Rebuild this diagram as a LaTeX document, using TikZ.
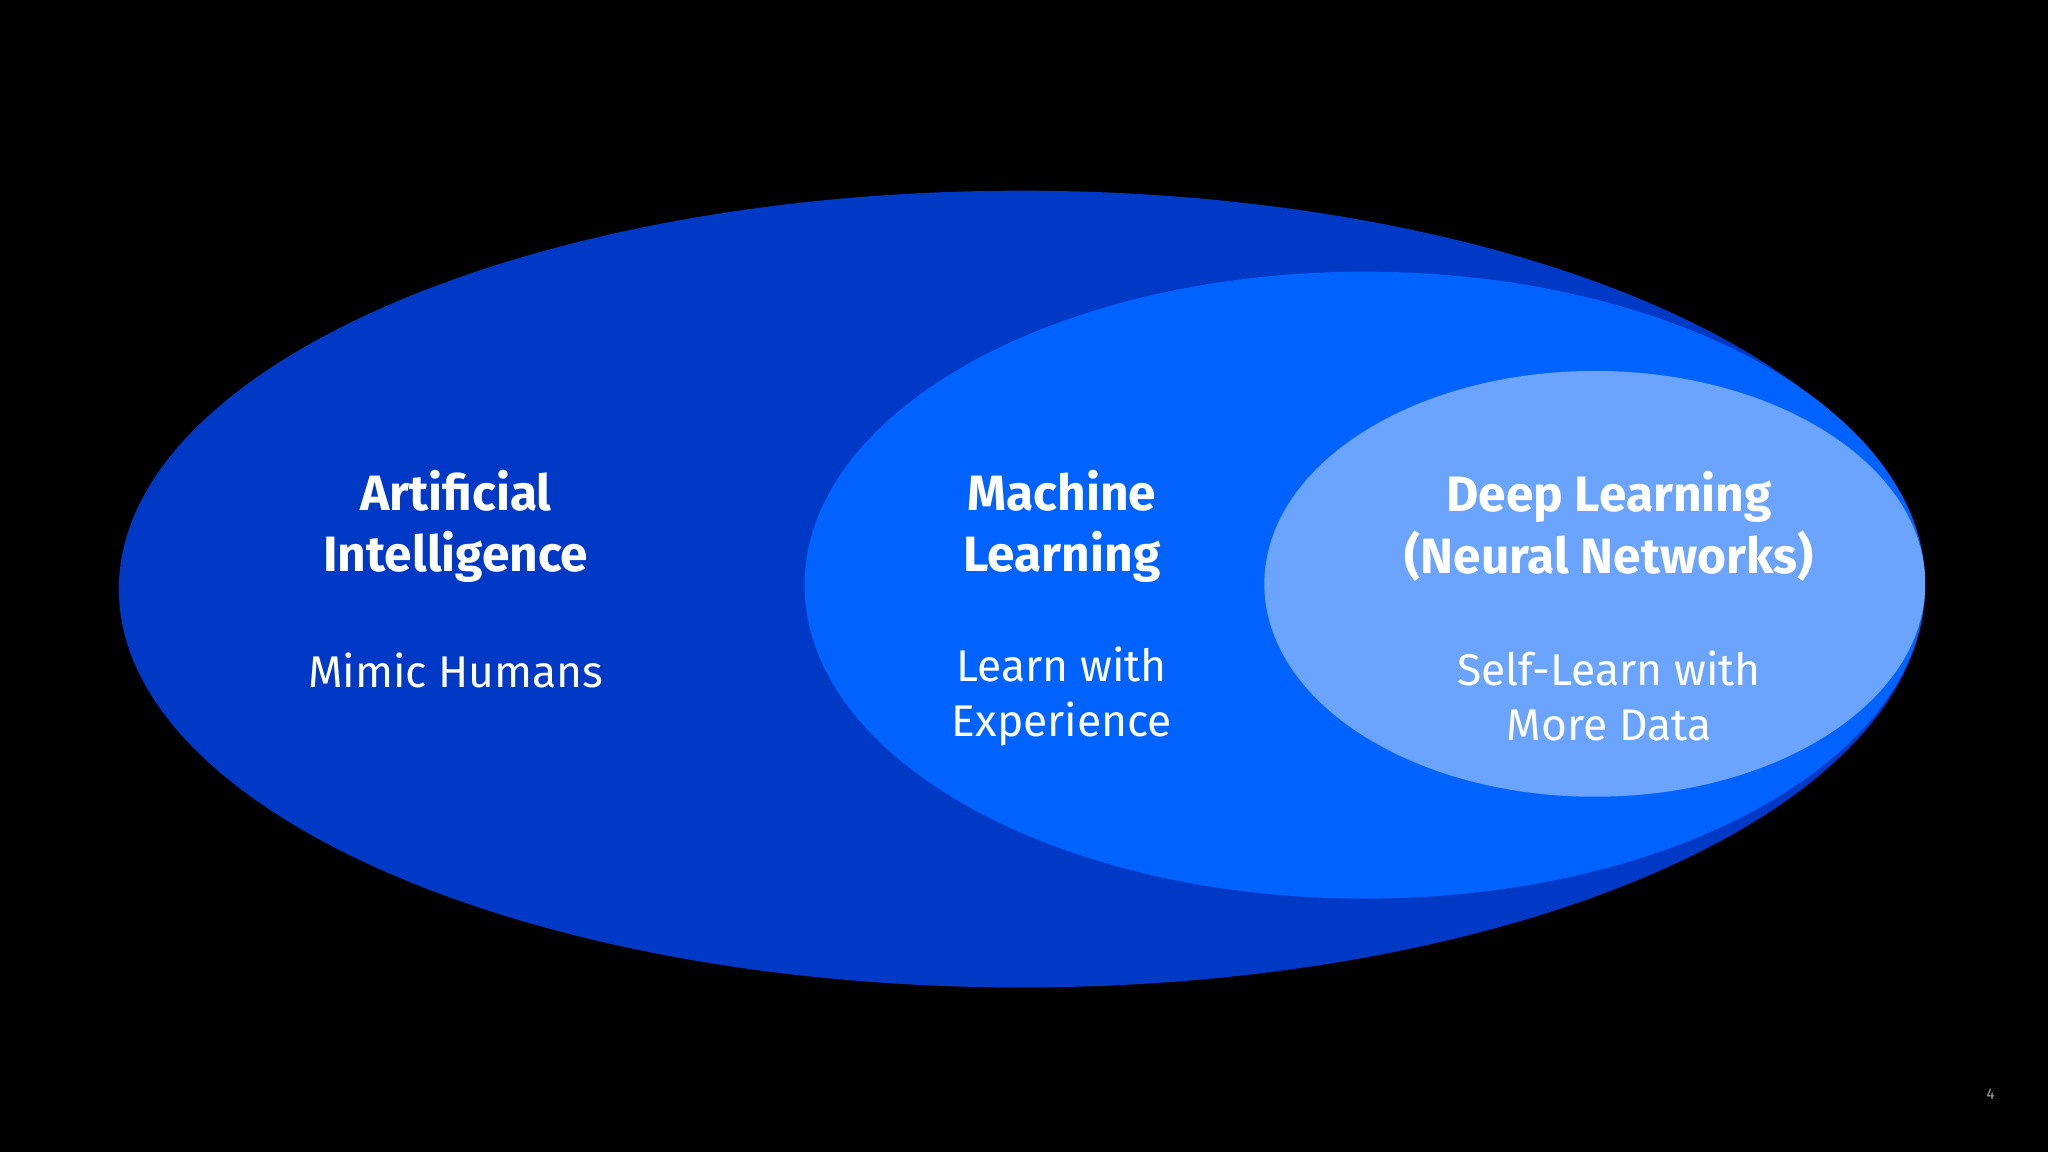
\documentclass[tikz,border=0pt]{standalone}
\usepackage{fontspec}
\setmainfont{Fira Sans}
\definecolor{aic}{RGB}{0,57,198}
\definecolor{mlc}{RGB}{0,98,255}
\definecolor{dlc}{RGB}{106,164,255}
\begin{document}
\begin{tikzpicture}[x=0.5pt,y=-0.5pt,
  ttl/.style={text=white,font=\fontsize{19}{23.5}\selectfont\bfseries,align=center},
  sub/.style={text=white,font=\fontsize{17}{21}\selectfont,align=center}]
\fill[black] (0,0) rectangle (1568,882);
\useasboundingbox (0,0) rectangle (1568,882);
\fill[aic] (782,451) ellipse [x radius=691, y radius=305];
\fill[mlc] (1045,448) ellipse [x radius=429, y radius=240];
\fill[dlc] (1221,447) ellipse [x radius=253, y radius=163];
\node[ttl] (ai) at (349,403) {Artificial\\Intelligence};
\node[sub] (ais) at (349,513) {Mimic Humans};
\node[ttl] (ml) at (813,403) {Machine\\Learning};
\node[sub] (mls) at (813,533) {Learn with\\Experience};
\node[ttl] (dl) at (1232,403) {Deep Learning\\(Neural Networks)};
\node[sub] (dls) at (1232,533) {Self-Learn with\\More Data};
\node[text=gray!80,font=\fontsize{6}{7}\selectfont] (pg) at (1524,838) {4};
\end{tikzpicture}
\end{document}
